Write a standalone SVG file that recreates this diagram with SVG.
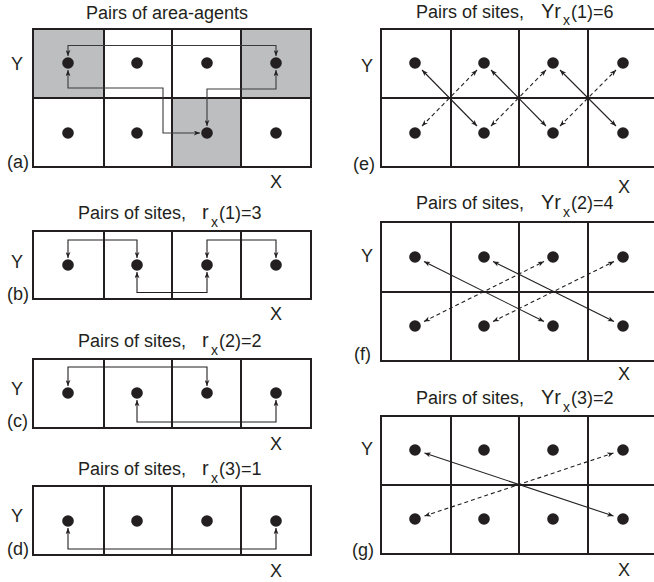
<svg xmlns="http://www.w3.org/2000/svg" width="654" height="582" viewBox="0 0 654 582">
<defs>
<style>
.grid{fill:none;stroke:#231f20;stroke-width:2}
.shade{fill:#bcbec0}
.dot{fill:#231f20}
.con{fill:none;stroke:#231f20;stroke-width:1.1;marker-start:url(#ah);marker-end:url(#ah)}
.dash{stroke-dasharray:4 3}
.gray{stroke:#3a3a3a}
text{font-family:"Liberation Sans",Arial,sans-serif;font-size:18px;fill:#231f20}
.big{font-size:20px}
.sub{font-size:14px}
.mid{text-anchor:middle}
</style>
<marker id="ah" viewBox="0 0 10 8" refX="10" refY="4" markerWidth="7" markerHeight="5" markerUnits="userSpaceOnUse" orient="auto-start-reverse">
<path d="M0,0 L10,4 L0,8 L3,4 z" fill="#231f20"/>
</marker>
</defs>

<g id="panel-a">
<rect class="shade" x="33" y="29" width="71" height="69"/>
<rect class="shade" x="241" y="29" width="70" height="69"/>
<rect class="shade" x="172" y="98" width="69" height="69"/>
<rect class="grid" x="33" y="29" width="278" height="138"/>
<path class="grid" d="M104,29V167M172,29V167M241,29V167M33,98H311"/>
<g class="dot"><circle cx="68" cy="63" r="5.8"/><circle cx="137" cy="63" r="5.8"/><circle cx="207" cy="63" r="5.8"/><circle cx="276" cy="63" r="5.8"/><circle cx="68" cy="133" r="5.8"/><circle cx="137" cy="133" r="5.8"/><circle cx="207" cy="133" r="5.8"/><circle cx="276" cy="133" r="5.8"/></g>
<text class="mid" x="167" y="19">Pairs of area-agents</text>
<text class="mid" x="17" y="70">Y</text>
<text x="7" y="168">(a)</text>
<text class="mid" x="276" y="188">X</text>
</g>

<g id="panel-b">
<rect class="grid" x="33" y="231" width="278" height="68"/>
<path class="grid" d="M104,231V299M172,231V299M241,231V299"/>
<g class="dot"><circle cx="68" cy="265" r="5.8"/><circle cx="137" cy="265" r="5.8"/><circle cx="207" cy="265" r="5.8"/><circle cx="276" cy="265" r="5.8"/></g>
<text x="78" y="219">Pairs of sites,<tspan class="big" x="202">r</tspan><tspan class="sub" x="211" y="227">x</tspan><tspan x="219" y="219">(1)=3</tspan></text>
<text class="mid" x="17" y="268">Y</text>
<text x="7" y="300">(b)</text>
<text class="mid" x="276" y="320">X</text>
</g>

<g id="panel-c">
<rect class="grid" x="33" y="359" width="278" height="69"/>
<path class="grid" d="M104,359V428M172,359V428M241,359V428"/>
<g class="dot"><circle cx="68" cy="393" r="5.8"/><circle cx="137" cy="393" r="5.8"/><circle cx="207" cy="393" r="5.8"/><circle cx="276" cy="393" r="5.8"/></g>
<text x="78" y="347">Pairs of sites,<tspan class="big" x="202">r</tspan><tspan class="sub" x="211" y="355">x</tspan><tspan x="219" y="347">(2)=2</tspan></text>
<text class="mid" x="17" y="395">Y</text>
<text x="7" y="427">(c)</text>
<text class="mid" x="276" y="450">X</text>
</g>

<g id="panel-d">
<rect class="grid" x="33" y="486" width="278" height="69"/>
<path class="grid" d="M104,486V555M172,486V555M241,486V555"/>
<g class="dot"><circle cx="68" cy="521" r="5.8"/><circle cx="137" cy="521" r="5.8"/><circle cx="207" cy="521" r="5.8"/><circle cx="276" cy="521" r="5.8"/></g>
<text x="78" y="475">Pairs of sites,<tspan class="big" x="202">r</tspan><tspan class="sub" x="211" y="483">x</tspan><tspan x="219" y="475">(3)=1</tspan></text>
<text class="mid" x="17" y="522">Y</text>
<text x="7" y="555">(d)</text>
<text class="mid" x="276" y="577">X</text>
</g>

<g id="panel-e">
<path class="grid" d="M660,29H381V167H660M451,29V167M519,29V167M588,29V167M381,98H660"/>
<g class="dot"><circle cx="415" cy="63" r="5.8"/><circle cx="484" cy="63" r="5.8"/><circle cx="553" cy="63" r="5.8"/><circle cx="623" cy="63" r="5.8"/><circle cx="415" cy="133" r="5.8"/><circle cx="484" cy="133" r="5.8"/><circle cx="553" cy="133" r="5.8"/><circle cx="623" cy="133" r="5.8"/></g>
<text x="416" y="17.5">Pairs of sites,<tspan class="big" x="541">Yr</tspan><tspan class="sub" x="563" y="25">x</tspan><tspan x="571" y="17.5">(1)=6</tspan></text>
<text class="mid" x="367" y="72">Y</text>
<text x="353" y="170">(e)</text>
<text class="mid" x="624" y="193">X</text>
</g>

<g id="panel-f">
<path class="grid" d="M660,222H381V361H660M451,222V361M519,222V361M588,222V361M381,292H660"/>
<g class="dot"><circle cx="415" cy="257" r="5.8"/><circle cx="484" cy="257" r="5.8"/><circle cx="553" cy="257" r="5.8"/><circle cx="623" cy="257" r="5.8"/><circle cx="415" cy="326" r="5.8"/><circle cx="484" cy="326" r="5.8"/><circle cx="553" cy="326" r="5.8"/><circle cx="623" cy="326" r="5.8"/></g>
<text x="416" y="209">Pairs of sites,<tspan class="big" x="541">Yr</tspan><tspan class="sub" x="563" y="217">x</tspan><tspan x="571" y="209">(2)=4</tspan></text>
<text class="mid" x="367" y="262">Y</text>
<text x="354" y="360">(f)</text>
<text class="mid" x="624" y="380">X</text>
</g>

<g id="panel-g">
<path class="grid" d="M660,416H381V554H660M451,416V554M519,416V554M588,416V554M381,485H660"/>
<g class="dot"><circle cx="415" cy="450" r="5.8"/><circle cx="484" cy="450" r="5.8"/><circle cx="553" cy="450" r="5.8"/><circle cx="623" cy="450" r="5.8"/><circle cx="415" cy="519" r="5.8"/><circle cx="484" cy="519" r="5.8"/><circle cx="553" cy="519" r="5.8"/><circle cx="623" cy="519" r="5.8"/></g>
<text x="416" y="404">Pairs of sites,<tspan class="big" x="541">Yr</tspan><tspan class="sub" x="563" y="412">x</tspan><tspan x="571" y="404">(3)=2</tspan></text>
<text class="mid" x="367" y="455">Y</text>
<text x="352" y="556">(g)</text>
<text class="mid" x="624" y="576">X</text>
</g>

<g id="connectors">
<path class="con gray" d="M68,56V45.5H276V56"/>
<path class="con gray" d="M68,70V88H163V133H200"/>
<path class="con gray" d="M276,70V89H207V126"/>
<path class="con" d="M68,258V240H137V258"/>
<path class="con" d="M207,258V240H276V258"/>
<path class="con" d="M137,272V292.5H207V272"/>
<path class="con" d="M68,386V367H207V386"/>
<path class="con" d="M137,400V422H276V400"/>
<path class="con" d="M68,528V549H276V528"/>
<path class="con" d="M422,70L477,126"/>
<path class="con" d="M491,70L546,126"/>
<path class="con" d="M560,70L616,126"/>
<path class="con dash" d="M422,126L477,70"/>
<path class="con dash" d="M491,126L546,70"/>
<path class="con dash" d="M560,126L616,70"/>
<path class="con" d="M424,261.5L544,321.5"/>
<path class="con" d="M493,261.5L614,321.5"/>
<path class="con dash" d="M424,321.5L544,261.5"/>
<path class="con dash" d="M493,321.5L614,261.5"/>
<path class="con" d="M424.5,453L613.5,516"/>
<path class="con dash" d="M424.5,516L613.5,453"/>
</g>
</svg>
